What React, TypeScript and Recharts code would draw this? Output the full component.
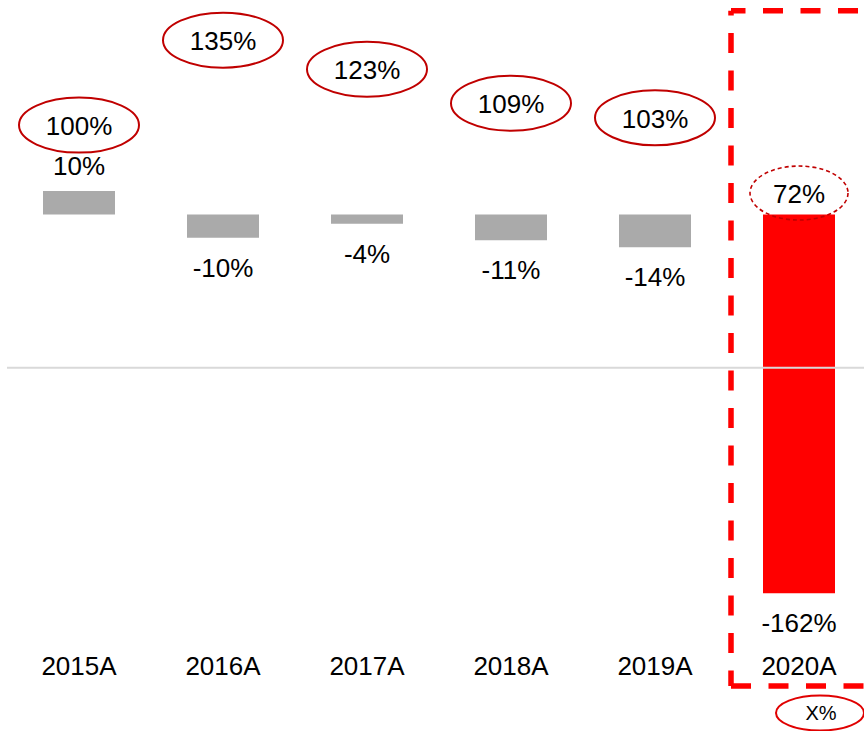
import { Bar, Cell, ComposedChart, LabelList, Line, ReferenceLine, XAxis, YAxis } from "recharts";

const years = ["2015A", "2016A", "2017A", "2018A", "2019A", "2020A"];
const growth = [10, -10, -4, -11, -14, -162];
const ratio = [100, 135, 123, 109, 103, 72];
const highlightYear = "2020A";
const annotationText = "X%";

const data = years.map((year, i) => ({ year, growth: growth[i], ratio: ratio[i] }));

const FONT = '"Liberation Sans", Arial, sans-serif';

function GrowthLabel(props: any) {
  const vb = props.viewBox || {};
  const x = props.x ?? vb.x;
  const y = props.y ?? vb.y;
  const width = props.width ?? vb.width;
  const height = props.height ?? vb.height;
  const value = Number(props.value);
  const top = Math.min(y, y + height);
  const bottom = Math.max(y, y + height);
  const cy = value >= 0 ? top - 25 : bottom + 30;
  return (
    <text x={x + width / 2} y={cy + 9} textAnchor="middle" fontSize={26} fontFamily={FONT} fill="#000">
      {`${value}%`}
    </text>
  );
}

function RatioBubble(props: any) {
  const { cx, cy, payload, index } = props;
  if (cx == null || cy == null) return null;
  const dashed = payload.year === highlightYear;
  return (
    <g key={`bubble-${index}`}>
      <ellipse
        cx={cx}
        cy={cy}
        rx={dashed ? 49 : 60}
        ry={dashed ? 27 : 27.5}
        fill="none"
        stroke="#c00000"
        strokeWidth={dashed ? 1.6 : 2}
        strokeDasharray={dashed ? "4 3" : undefined}
      />
      <text x={cx} y={cy + 10} textAnchor="middle" fontSize={26} fontFamily={FONT} fill="#000">
        {`${payload.ratio}%`}
      </text>
    </g>
  );
}

export default function App() {
  return (
    <div style={{ position: "absolute", left: 0, top: 0, width: 864, height: 731, overflow: "hidden", background: "#fff" }}>
      <ComposedChart width={880} height={731} data={data} margin={{ top: 11, right: 9, left: 7, bottom: 54 }} barCategoryGap="25%">
        <XAxis
          dataKey="year"
          axisLine={false}
          tickLine={false}
          tickMargin={4}
          interval={0}
          tick={{ fill: "#000", fontSize: 26, fontFamily: FONT }}
        />
        <YAxis yAxisId="left" hide domain={[-185, 87]} />
        <YAxis yAxisId="right" orientation="right" hide domain={[-115, 147]} />
        <ReferenceLine yAxisId="right" y={0} stroke="#d9d9d9" strokeWidth={2} />
        <Bar yAxisId="left" dataKey="growth" isAnimationActive={false}>
          {data.map((d) => (
            <Cell key={d.year} fill={d.year === highlightYear ? "#ff0000" : "#aaaaaa"} />
          ))}
          <LabelList dataKey="growth" content={GrowthLabel} />
        </Bar>
        <Line
          yAxisId="right"
          dataKey="ratio"
          stroke="none"
          dot={RatioBubble}
          activeDot={false}
          legendType="none"
          isAnimationActive={false}
        />
      </ComposedChart>
      {/* dashed highlight box around the 2020A column and the X% note below it */}
      <svg width={864} height={731} style={{ position: "absolute", left: 0, top: 0, pointerEvents: "none" }}>
        <path d="M731 10.7 H900" fill="none" stroke="#ff0000" strokeWidth={5.5} strokeDasharray="20 17.5" strokeDashoffset={5.5} />
        <path d="M731 686 V10.7" fill="none" stroke="#ff0000" strokeWidth={5.5} strokeDasharray="20 17.5" strokeDashoffset={4.5} />
        <path d="M731 686 H900" fill="none" stroke="#ff0000" strokeWidth={5.5} strokeDasharray="20 17.5" strokeDashoffset={0} />
        <ellipse cx={820} cy={713} rx={44} ry={17.5} fill="none" stroke="#e00000" strokeWidth={2} />
        <text x={821} y={720} textAnchor="middle" fontSize={20} fontFamily={FONT} fill="#000">
          {annotationText}
        </text>
      </svg>
    </div>
  );
}
